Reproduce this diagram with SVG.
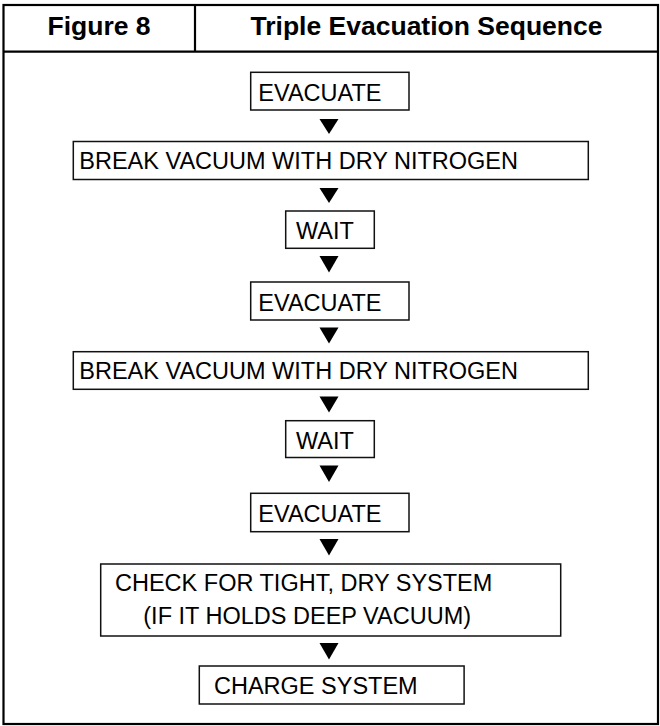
<svg xmlns="http://www.w3.org/2000/svg" width="660" height="726" viewBox="0 0 660 726">
<style>
.frame{fill:none;stroke:#000;stroke-width:2.2}
.box{fill:#fff;stroke:#111;stroke-width:1.5}
.t{font-family:"Liberation Sans",Arial,sans-serif;font-size:23.5px;fill:#000}
.h{font-family:"Liberation Sans",Arial,sans-serif;font-size:26.5px;font-weight:bold;fill:#000;text-anchor:middle}
.arr{fill:#000}
</style>
<rect width="660" height="726" fill="#fff"/>
<g id="header">
<rect class="frame" x="3.5" y="5" width="654.5" height="719"/>
<line class="frame" x1="3.5" y1="51.7" x2="658" y2="51.7"/>
<line class="frame" x1="195" y1="5" x2="195" y2="51.7"/>
<text class="h" x="99" y="35">Figure 8</text>
<text class="h" x="426.5" y="35">Triple Evacuation Sequence</text>
</g>
<g id="connectors">
<polygon class="arr" points="319.5,119 338.5,119 329,134"/>
<polygon class="arr" points="319.5,188 338.5,188 329,203"/>
<polygon class="arr" points="319.5,256 338.5,256 329,272.5"/>
<polygon class="arr" points="319.5,327.5 338.5,327.5 329,343.5"/>
<polygon class="arr" points="319.5,396.5 338.5,396.5 329,412.5"/>
<polygon class="arr" points="319.5,465.5 338.5,465.5 329,482"/>
<polygon class="arr" points="319.5,539 338.5,539 329,555.5"/>
<polygon class="arr" points="319.5,643 338.5,643 329,659.5"/>
</g>
<g id="evacuate1">
<rect class="box" x="250.7" y="72.3" width="158.3" height="37.7"/>
<text class="t" x="258.3" y="101">EVACUATE</text>
</g>
<g id="break1">
<rect class="box" x="73.3" y="141.5" width="515" height="38"/>
<text class="t" x="79.3" y="169">BREAK VACUUM WITH DRY NITROGEN</text>
</g>
<g id="wait1">
<rect class="box" x="285.7" y="211" width="88.6" height="37.3"/>
<text class="t" x="296" y="239.3">WAIT</text>
</g>
<g id="evacuate2">
<rect class="box" x="250.7" y="282" width="158.3" height="38"/>
<text class="t" x="258.3" y="310.5">EVACUATE</text>
</g>
<g id="break2">
<rect class="box" x="73.3" y="351.7" width="515" height="37.6"/>
<text class="t" x="79.3" y="379">BREAK VACUUM WITH DRY NITROGEN</text>
</g>
<g id="wait2">
<rect class="box" x="285.7" y="420.7" width="88.6" height="36.8"/>
<text class="t" x="296" y="448.5">WAIT</text>
</g>
<g id="evacuate3">
<rect class="box" x="250.7" y="493.3" width="158.3" height="38.4"/>
<text class="t" x="258.3" y="521.7">EVACUATE</text>
</g>
<g id="check">
<rect class="box" x="100.7" y="564" width="460" height="72"/>
<text class="t" x="115" y="591">CHECK FOR TIGHT, DRY SYSTEM</text>
<text class="t" x="143.3" y="624">(IF IT HOLDS DEEP VACUUM)</text>
</g>
<g id="charge">
<rect class="box" x="199.3" y="666" width="264.8" height="38"/>
<text class="t" x="214" y="693.5">CHARGE SYSTEM</text>
</g>
</svg>
